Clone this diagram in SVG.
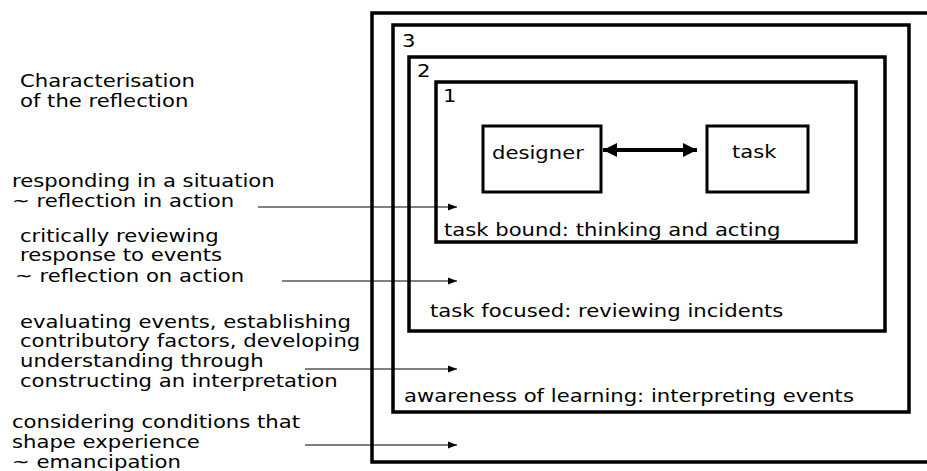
<svg xmlns="http://www.w3.org/2000/svg" width="927" height="471" viewBox="0 0 927 471">
<style>
.box{fill:none;stroke:#000;stroke-width:3.5}
.sbox{fill:#fff;stroke:#000;stroke-width:3}
.t{font-family:"DejaVu Sans",Verdana,sans-serif;font-size:17px;fill:#000}
.thin{stroke:#000;stroke-width:1;fill:none}
.thick{stroke:#000;stroke-width:4;fill:none}
</style>
<defs>
<marker id="ah" markerUnits="userSpaceOnUse" markerWidth="10" markerHeight="8" refX="9" refY="4" orient="auto">
<path d="M0,0.5 L9,4 L0,7.5 Z" fill="#000"/>
</marker>
<marker id="bh" markerUnits="userSpaceOnUse" markerWidth="15" markerHeight="15" refX="14" refY="7.5" orient="auto-start-reverse">
<path d="M0,0.5 L14,7.5 L0,14.5 Z" fill="#000"/>
</marker>
</defs>
<rect width="927" height="471" fill="#fff"/>
<g id="frame">
<rect class="box" x="372" y="13" width="600" height="449"/>
</g>
<g id="level3">
<rect class="box" x="393" y="25" width="516" height="387"/>
<g transform="scale(1.245 1)"><text class="t" x="322.9" y="47">3</text>
<text class="t" x="324.5" y="402">awareness of learning: interpreting events</text></g>
</g>
<g id="level2">
<rect class="box" x="409" y="57" width="476" height="274"/>
<g transform="scale(1.245 1)"><text class="t" x="334.9" y="77">2</text>
<text class="t" x="345.4" y="317">task focused: reviewing incidents</text></g>
</g>
<g id="level1">
<rect class="box" x="436" y="82" width="420" height="160"/>
<g transform="scale(1.245 1)"><text class="t" x="355.8" y="102">1</text>
<text class="t" x="356.6" y="236">task bound: thinking and acting</text></g>
</g>
<g id="designer">
<rect class="sbox" x="483" y="126" width="118" height="66"/>
<g transform="scale(1.245 1)"><text class="t" x="395.2" y="159">designer</text></g>
</g>
<g id="task">
<rect class="sbox" x="707" y="126" width="101" height="66"/>
<g transform="scale(1.245 1)"><text class="t" x="588" y="158">task</text></g>
</g>
<g id="labels" transform="scale(1.245 1)">
<text class="t" x="16.06" y="87">Characterisation</text>
<text class="t" x="16.06" y="107">of the reflection</text>
<text class="t" x="9.64" y="187">responding in a situation</text>
<text class="t" x="9.64" y="207">~ reflection in action</text>
<text class="t" x="16.06" y="242">critically reviewing</text>
<text class="t" x="16.06" y="261">response to events</text>
<text class="t" x="12.05" y="282">~ reflection on action</text>
<text class="t" x="16.06" y="328">evaluating events, establishing</text>
<text class="t" x="16.06" y="347">contributory factors, developing</text>
<text class="t" x="16.06" y="367">understanding through</text>
<text class="t" x="16.06" y="387">constructing an interpretation</text>
<text class="t" x="9.64" y="428">considering conditions that</text>
<text class="t" x="9.64" y="448">shape experience</text>
<text class="t" x="9.64" y="468">~ emancipation</text>
</g>
<g id="connectors">
<line class="thick" x1="603" y1="150" x2="697" y2="150" marker-start="url(#bh)" marker-end="url(#bh)"/>
<line class="thin" x1="258" y1="207" x2="457" y2="207" marker-end="url(#ah)"/>
<line class="thin" x1="282" y1="281" x2="457" y2="281" marker-end="url(#ah)"/>
<line class="thin" x1="305" y1="369" x2="457" y2="369" marker-end="url(#ah)"/>
<line class="thin" x1="305" y1="445" x2="457" y2="445" marker-end="url(#ah)"/>
</g>
</svg>
